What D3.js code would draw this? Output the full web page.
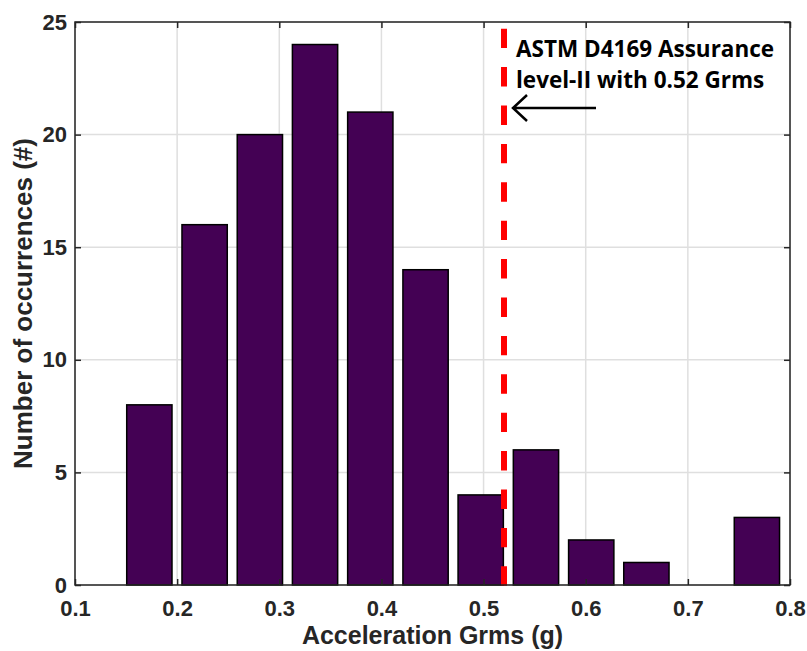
<!DOCTYPE html>
<html><head><meta charset="utf-8">
<script src="https://cdn.jsdelivr.net/npm/d3@7"></script>
<style>body{margin:0;background:#fff}</style>
</head><body>
<svg id="c" width="807" height="651"></svg>
<script>
const binCenters = [0.1728, 0.2269, 0.2810, 0.3350, 0.3891, 0.4432, 0.4972, 0.5513, 0.6054, 0.6594, 0.7135, 0.7676];
const counts = [8, 16, 20, 24, 21, 14, 4, 6, 2, 1, 0, 3];
const xTicks = [0.1, 0.2, 0.3, 0.4, 0.5, 0.6, 0.7, 0.8];
const yTicks = [0, 5, 10, 15, 20, 25];
const binWidth = 0.05407;
const refLine = 0.52;
const annotation = ["ASTM D4169 Assurance", "level-II with 0.52 Grms"];

const svg = d3.select("#c");
const L = 75, R = 790, T = 22, B = 585;
const x = d3.scaleLinear().domain([0.1, 0.8]).range([L, R]);
const y = d3.scaleLinear().domain([0, 25]).range([B, T]);
const axCol = "#262626";
const FONT = "Liberation Sans, Arial, Helvetica, sans-serif";

// grid
svg.append("g").selectAll("line").data(xTicks).join("line")
  .attr("x1", d => x(d)).attr("x2", d => x(d)).attr("y1", T).attr("y2", B)
  .attr("stroke", "#dfdfdf").attr("stroke-width", 1.5);
svg.append("g").selectAll("line").data(yTicks).join("line")
  .attr("y1", d => y(d)).attr("y2", d => y(d)).attr("x1", L).attr("x2", R)
  .attr("stroke", "#dfdfdf").attr("stroke-width", 1.5);

// bars
svg.append("g").selectAll("rect").data(binCenters.map((c, i) => ({c, v: counts[i]})).filter(d => d.v > 0)).join("rect")
  .attr("x", d => x(d.c - binWidth * 0.41)).attr("width", d => x(d.c + binWidth * 0.41) - x(d.c - binWidth * 0.41))
  .attr("y", d => y(d.v)).attr("height", d => y(0) - y(d.v))
  .attr("fill", "#440154").attr("stroke", "#000").attr("stroke-width", 1.5);

// red dashed reference line
svg.append("line").attr("x1", x(refLine)).attr("x2", x(refLine)).attr("y1", B + 0.7).attr("y2", T)
  .attr("stroke", "#ff0000").attr("stroke-width", 6).attr("stroke-dasharray", "19.4,19");

// axes with inward ticks
const xAxB = d3.axisBottom(x).tickValues(xTicks).tickSize(-6).tickPadding(15).tickFormat(d3.format(".1f"));
const xAxT = d3.axisTop(x).tickValues(xTicks).tickSize(-6).tickFormat("");
const yAxL = d3.axisLeft(y).tickValues(yTicks).tickSize(-6).tickPadding(8).tickFormat(d3.format("d"));
const yAxR = d3.axisRight(y).tickValues(yTicks).tickSize(-6).tickFormat("");
function style(g){
  g.select(".domain").remove();
  g.selectAll(".tick line").attr("stroke", axCol).attr("stroke-width", 1.5);
  g.selectAll("text").attr("fill", axCol).attr("font-family", FONT)
   .attr("font-weight", "bold").attr("font-size", 22);
}
svg.append("g").attr("transform", `translate(0,${B})`).call(xAxB).call(style);
svg.append("g").attr("transform", `translate(0,${T})`).call(xAxT).call(style);
svg.append("g").attr("transform", `translate(${L},0)`).call(yAxL).call(style);
svg.append("g").attr("transform", `translate(${R},0)`).call(yAxR).call(style);
svg.append("rect").attr("x", L).attr("y", T).attr("width", R - L).attr("height", B - T)
  .attr("fill", "none").attr("stroke", axCol).attr("stroke-width", 1.5);

// axis labels
svg.append("text").attr("x", (L + R) / 2).attr("y", 644).attr("text-anchor", "middle")
  .attr("font-family", FONT).attr("font-weight", "bold").attr("font-size", 25)
  .attr("fill", axCol).text("Acceleration Grms (g)");
svg.append("text").attr("transform", `translate(32,${(T + B) / 2}) rotate(-90)`).attr("text-anchor", "middle")
  .attr("font-family", FONT).attr("font-weight", "bold").attr("font-size", 26)
  .attr("fill", axCol).text("Number of occurrences (#)");

// annotation
const ann = svg.append("g").attr("font-family", "Open Sans, sans-serif").attr("font-weight", "bold")
  .attr("font-size", 22.5).attr("fill", "#000");
ann.selectAll("text").data(annotation).join("text")
  .attr("x", 516).attr("y", (d, i) => 57 + i * 31).text(d => d);
const ay = 108, ax0 = x(refLine) + 9, ax1 = 596;
svg.append("path").attr("d", `M${ax1},${ay}H${ax0} M${ax0 + 14},${ay - 13} L${ax0},${ay} L${ax0 + 14},${ay + 13}`)
  .attr("fill", "none").attr("stroke", "#000").attr("stroke-width", 2.5);
</script>
</body></html>
